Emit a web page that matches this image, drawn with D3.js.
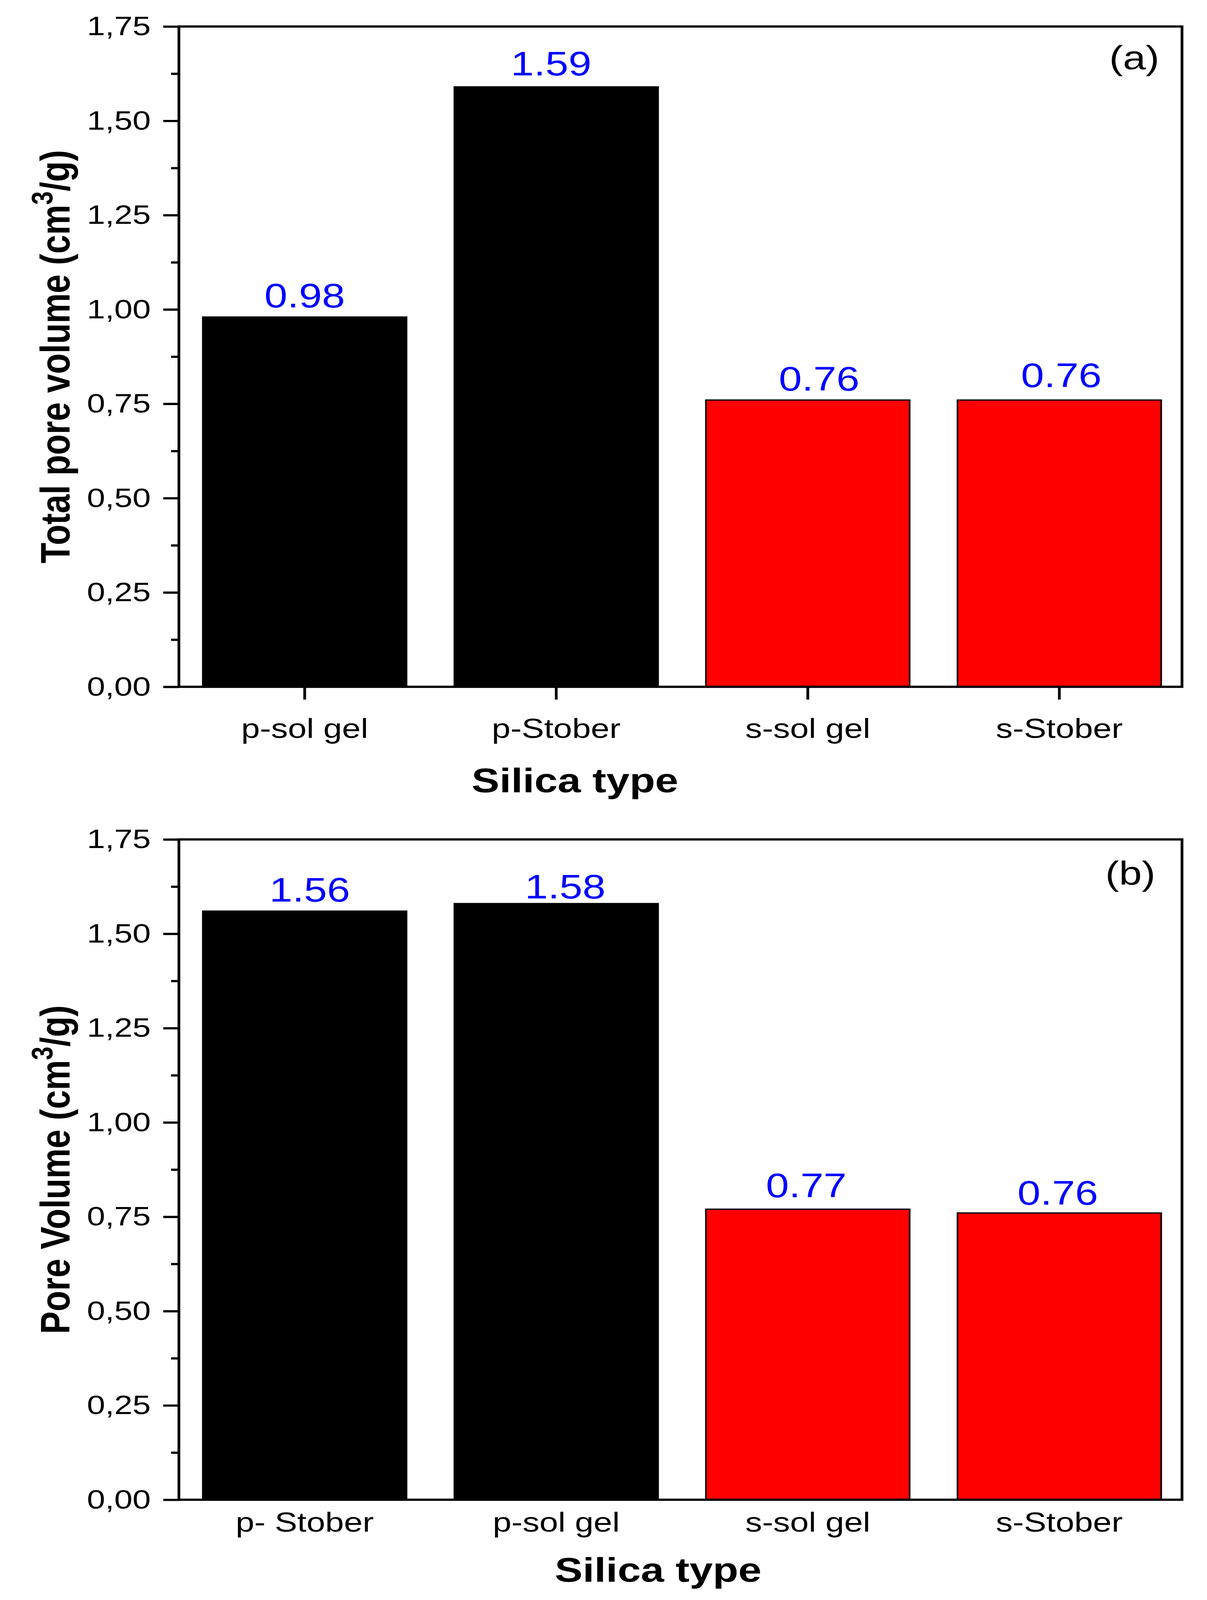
<!DOCTYPE html>
<html lang="en">
<head>
    <meta charset="UTF-8">
    <title>Silica pore volume</title>
    <script src="https://d3js.org/d3.v7.min.js"></script>
    <style>
        html, body { margin: 0; padding: 0; background: #fff; overflow: hidden; }
        svg { display: block; }
        text { font-family: "Liberation Sans", Arial, sans-serif; }
        .tick line { stroke: #000; stroke-width: 7; }
        .tick text { fill: #000; }
    </style>
</head>
<body>
    <div id="chart"></div>
    <script>
        // panel (a)
        const catsA = ["p-sol gel", "p-Stober", "s-sol gel", "s-Stober"];
        const valsA = [0.98, 1.59, 0.76, 0.76];
        // panel (b)
        const catsB = ["p- Stober", "p-sol gel", "s-sol gel", "s-Stober"];
        const valsB = [1.56, 1.58, 0.77, 0.76];

        const barColors = ["#000000", "#000000", "#ff0000", "#ff0000"];
        const yTicks = [0, 0.25, 0.5, 0.75, 1.0, 1.25, 1.5, 1.75];
        const yMinor = [0.125, 0.375, 0.625, 0.875, 1.125, 1.375, 1.625];

        // drawing is laid out on a 3090 x 5011 canvas and stretched to the window
        const width = 3090, height = 5011;
        const left = 458, right = 3026, bandEnd = 3034;

        const comma = d => d3.format(".2f")(d).replace(".", ",");

        const svg = d3.select("#chart").append("svg")
            .attr("width", window.innerWidth || width)
            .attr("height", window.innerHeight || height)
            .attr("viewBox", `0 0 ${width} ${height}`)
            .attr("preserveAspectRatio", "none");

        svg.append("rect").attr("width", width).attr("height", height).attr("fill", "#fff");

        function drawPanel(cfg) {
            const g = svg.append("g");

            const x = d3.scaleBand()
                .domain(cfg.cats)
                .range([left, bandEnd])
                .paddingInner(0.19)
                .paddingOuter(0.095);

            const y = d3.scaleLinear()
                .domain([0, 1.75])
                .range([cfg.bottom, cfg.top]);

            const data = cfg.cats.map((c, i) => ({ cat: c, v: cfg.vals[i], color: barColors[i], i: i }));

            // bars
            g.selectAll(".bar")
                .data(data)
                .enter()
                .append("rect")
                .attr("class", "bar")
                .attr("x", d => x(d.cat))
                .attr("y", d => y(d.v))
                .attr("width", x.bandwidth())
                .attr("height", d => y(0) - y(d.v))
                .attr("fill", d => d.color)
                .attr("stroke", "#000")
                .attr("stroke-width", 4);

            // value labels (hand placed a little differently in the original)
            g.selectAll(".val")
                .data(data)
                .enter()
                .append("text")
                .attr("class", "val")
                .attr("x", d => x(d.cat) + x.bandwidth() / 2 + cfg.labDx[d.i])
                .attr("y", d => y(d.v) - cfg.labDy[d.i])
                .attr("text-anchor", "middle")
                .attr("font-size", 106)
                .attr("fill", "#0000ff")
                .text(d => d.v.toFixed(2));

            // y axis major ticks
            const yAxis = g.append("g")
                .attr("transform", `translate(${left},0)`)
                .call(d3.axisLeft(y).tickValues(yTicks).tickSize(40).tickPadding(32).tickFormat(comma));
            yAxis.select(".domain").remove();
            yAxis.selectAll("text").attr("font-size", 84).attr("font-family", "Liberation Sans, Arial, sans-serif");

            // y axis minor ticks
            const yMin = g.append("g")
                .attr("transform", `translate(${left},0)`)
                .call(d3.axisLeft(y).tickValues(yMinor).tickSize(20).tickFormat(""));
            yMin.select(".domain").remove();

            // x axis
            const xAxis = g.append("g")
                .attr("transform", `translate(0,${cfg.bottom})`)
                .call(d3.axisBottom(x).tickSize(cfg.xTick));
            xAxis.select(".domain").remove();
            xAxis.selectAll("text")
                .attr("font-size", 86)
                .attr("font-family", "Liberation Sans, Arial, sans-serif")
                .attr("y", cfg.xLabelOff)
                .attr("dy", 0);

            // frame
            g.append("rect")
                .attr("x", left)
                .attr("y", cfg.top)
                .attr("width", right - left)
                .attr("height", cfg.bottom - cfg.top)
                .attr("fill", "none")
                .attr("stroke", "#000")
                .attr("stroke-width", 7);

            // x title
            g.append("text")
                .attr("x", cfg.xTitleX)
                .attr("y", cfg.xTitleY)
                .attr("text-anchor", "middle")
                .attr("font-size", 107)
                .attr("font-weight", "bold")
                .text("Silica type");

            // y title, built from three pieces so the superscript sits right
            const yt = g.append("g")
                .attr("transform", `translate(178,${(cfg.top + cfg.bottom) / 2}) rotate(-90)`)
                .attr("font-weight", "bold");
            const p1 = yt.append("text").attr("font-size", 106).text(cfg.yTitle + " (cm");
            const p2 = yt.append("text").attr("font-size", 76).attr("y", -44).text("3");
            const p3 = yt.append("text").attr("font-size", 106).text("/g)");
            const w1 = p1.node().getComputedTextLength();
            const w2 = p2.node().getComputedTextLength();
            const w3 = p3.node().getComputedTextLength();
            const x0 = -(w1 + w2 + w3) / 2;
            p1.attr("x", x0);
            p2.attr("x", x0 + w1);
            p3.attr("x", x0 + w1 + w2);

            // panel letter
            g.append("text")
                .attr("x", cfg.letterX)
                .attr("y", cfg.top + cfg.letterDy)
                .attr("text-anchor", "end")
                .attr("font-size", 105)
                .text(cfg.letter);
        }

        drawPanel({
            cats: catsA, vals: valsA, top: 83, bottom: 2151, xTick: 40, xLabelOff: 160,
            labDx: [0, -13, 29, 5], labDy: [30, 36, 30, 41],
            xTitleX: 1472, xTitleY: 2481, yTitle: "Total pore volume",
            letter: "(a)", letterX: 2968, letterDy: 134
        });

        drawPanel({
            cats: catsB, vals: valsB, top: 2629, bottom: 4697, xTick: 0, xLabelOff: 100,
            labDx: [13, 23, -4, -4], labDy: [30, 16, 37, 26],
            xTitleX: 1685, xTitleY: 4954, yTitle: "Pore Volume",
            letter: "(b)", letterX: 2958, letterDy: 142
        });
    </script>
</body>
</html>
